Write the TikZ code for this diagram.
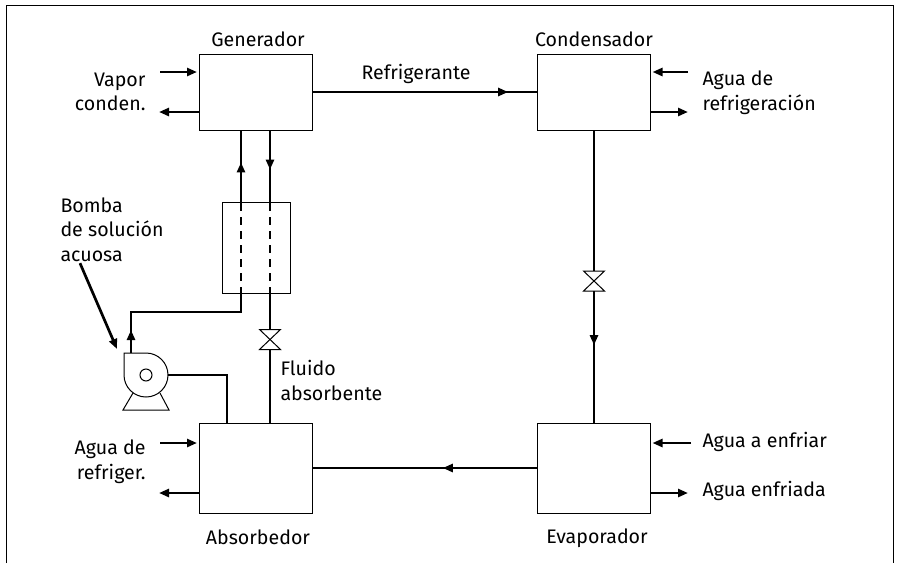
\documentclass[tikz,border=0pt]{standalone}
\usepackage{fontspec}
\setmainfont{Fira Sans}
\usetikzlibrary{arrows.meta, calc, decorations.markings}
\tikzset{
  every picture/.style={font=\fontsize{19.6}{24.7}\selectfont, line width=1pt, x=1pt, y=-1pt},
  unit/.style={draw, fill=white, minimum width=113pt, minimum height=#1, inner sep=0pt, outer sep=0pt},
  unit/.default=76pt,
  pipe/.style={line width=2.7pt},
  flow/.style={-{Triangle[length=10pt, width=8pt]}, line width=2.7pt},
  midflow/.style={line width=2.7pt, decoration={markings, mark=at position #1 with {\arrow{Triangle[length=10pt, width=8pt]}}}, postaction=decorate},
  dashpipe/.style={line width=2.7pt, dash pattern=on 8pt off 6pt, dash phase=-1pt},
  valve/.style={minimum width=21pt, minimum height=20pt, inner sep=0pt, outer sep=0pt},
  txt/.style={inner sep=0pt, align=#1},
  txt/.default=left,
}
\begin{document}
\begin{tikzpicture}
  \useasboundingbox (0,0) rectangle (900,563);
  \draw (6,563) -- (6,5) -- (893,5) -- (893,563);
  % main units
  \node[unit] (gen) at (255.5,92) {};
  \node[unit] (cond) at (594,92) {};
  \node[unit=90pt] (evap) at (594,468) {};
  \node[unit=90pt] (abs) at (255.5,468) {};
  \node[draw, minimum width=68pt, minimum height=91pt, inner sep=0pt, outer sep=0pt] (hx) at (256,247.5) {};
  \node[valve] (v1) at (270,339.5) {};
  \node[valve] (v2) at (594,281) {};
  \foreach \v in {v1,v2} \draw[fill=white] (\v.north west) -- (\v.south east) -- (\v.south west) -- (\v.north east) -- cycle;
  % pump
  \node[minimum size=44pt, inner sep=0pt, outer sep=0pt] (pump) at (146,375) {};
  \draw (133,393) -- (123,410) -- (169,410) -- (160,393);
  \draw[fill=white] (124,353) -- (pump.north) arc[start angle=-90, end angle=180, radius=22] -- cycle;
  \node[draw, circle, minimum size=12pt, inner sep=0pt] (rotor) at (pump) {};
  % main loop
  \draw[midflow=0.87] (gen.east) -- (cond.west);
  \draw[pipe] (cond.south) -- (v2.north);
  \draw[midflow=0.41] (v2.south) -- (evap.north);
  \draw[midflow=0.42] (evap.west) -- (abs.east);
  % solution circuit
  \coordinate (hotin) at (241,202);
  \coordinate (hotout) at (270,202);
  \coordinate (coldout) at (241,293);
  \coordinate (coldin) at (270,293);
  \draw[midflow=0.55] (hotin) -- (hotin |- gen.south);
  \draw[midflow=0.55] (hotout |- gen.south) -- (hotout);
  \draw[dashpipe] (hotin) -- (coldout);
  \draw[dashpipe] (hotout) -- (coldin);
  \draw[pipe] (coldin) -- (v1.north);
  \draw[pipe] (v1.south) -- (v1.south |- abs.north);
  \coordinate (corner) at (131,312);
  \coordinate (feed) at (227,423);
  \draw[pipe] (coldout) |- (corner) -- (corner |- pump.north);
  \draw[flow] (corner |- pump.north) -- ++(0,-23);
  \draw[pipe] (pump.east) -| (feed);
  % side connections
  \coordinate (vi) at (160,72);
  \coordinate (vo) at (159,112);
  \coordinate (ci) at (688,72);
  \coordinate (co) at (688,112);
  \coordinate (ai) at (160,443);
  \coordinate (ao) at (159,493);
  \coordinate (ei) at (691,443);
  \coordinate (eo) at (688,493);
  \draw[flow, shorten >=2pt] (vi) -- (vi -| gen.west);
  \draw[flow] (vo -| gen.west) -- (vo);
  \draw[flow, shorten >=2pt] (ci) -- (ci -| cond.east);
  \draw[flow] (co -| cond.east) -- (co);
  \draw[flow, shorten >=2pt] (ai) -- (ai -| abs.west);
  \draw[flow] (ao -| abs.west) -- (ao);
  \draw[flow, shorten >=2pt] (ei) -- (ei -| evap.east);
  \draw[flow] (eo -| evap.east) -- (eo);
  % labels
  \node[txt] (lgen) at (258,39) {Generador};
  \node[txt] (lcond) at (594,39) {Condensador};
  \node[txt] (levap) at (597,538) {Evaporador};
  \node[txt] (labs) at (258,537) {Absorbedor};
  \node[txt] (lref) at (416,74) {Refrigerante};
  \node[txt=right, anchor=east] (lvap) at (146,92) {Vapor\\conden.};
  \node[txt=left, anchor=west] (lcw) at (702,93) {Agua de\\refrigeración};
  \node[txt=right, anchor=east] (labw) at (146,461.5) {Agua de\\refriger.};
  \node[txt, anchor=west] (lin) at (702,442) {Agua a enfriar};
  \node[txt, anchor=west] (lout) at (702,491) {Agua enfriada};
  \node[txt=left, anchor=west] (lbomba) at (60,229.5) {Bomba\\de solución\\acuosa};
  \node[txt=left, anchor=west] (lfl) at (280,380.5) {Fluido\\absorbente};
  \coordinate (ptrend) at (117,349);
  \draw[flow] (lbomba.south west) ++(20,1) -- (ptrend);
\end{tikzpicture}
\end{document}
